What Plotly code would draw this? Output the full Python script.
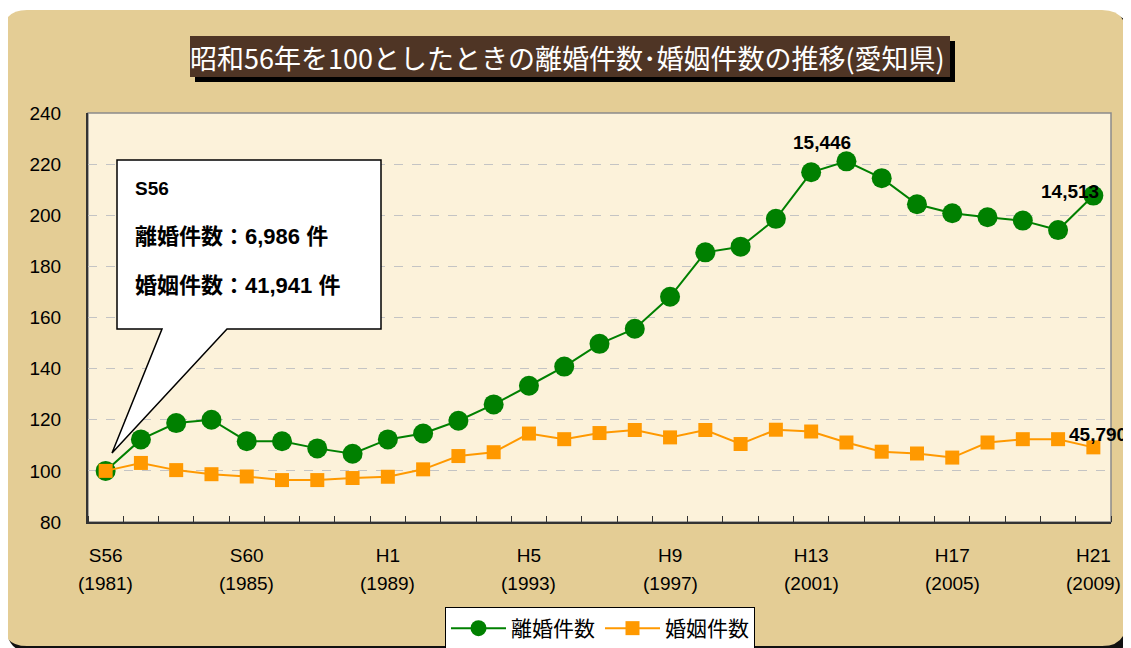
import plotly.graph_objects as go

# index values, S56 (1981) = 100
years = list(range(1981, 2010))
divorce_idx = [100, 112.3, 118.7, 120.0, 111.6, 111.6, 108.8, 106.7, 112.3, 114.6,
               119.6, 126.0, 133.3, 140.8, 149.7, 155.6, 168.1, 185.5, 187.7, 198.6,
               216.8, 221.1, 214.5, 204.3, 200.8, 199.2, 197.9, 194.2, 207.7]
marriage_idx = [100, 103.1, 100.3, 98.7, 97.8, 96.4, 96.4, 97.2, 97.7, 100.6,
                105.8, 107.3, 114.6, 112.4, 114.8, 116.0, 113.1, 116.0, 110.5, 116.1,
                115.4, 111.1, 107.5, 106.8, 105.2, 111.1, 112.4, 112.4, 109.2]

era_labels = ["S56", "S60", "H1", "H5", "H9", "H13", "H17", "H21"]
era_years = [1981, 1985, 1989, 1993, 1997, 2001, 2005, 2009]

# point labels: (year, series, text)
point_labels = [(2002, "divorce", "15,446"), (2009, "divorce", "14,513"),
                (2009, "marriage", "45,790")]

title = "昭和56年を100としたときの離婚件数･婚姻件数の推移(愛知県)"
callout_lines = ["S56", "離婚件数：6,986 件", "婚姻件数：41,941 件"]

W, H = 1131, 648
OFF = 8  # page body margin, positions below are in screenshot pixels
PL, PT, PR, PB = 88, 113, 1111, 522  # plot area in screenshot pixels
L, T = PL - OFF, PT - OFF
R, B = W - (PR - OFF), H - (PB - OFF)
PW, PH = PR - PL, PB - PT

FONT = "Liberation Sans, Arial, Noto Sans CJK JP"
GREEN = "#008000"
ORANGE = "#ff9900"


def fx(x):
    return (x - PL) / PW


def fy(y):
    return (PB - y) / PH


def rounded_rect(x0, y0, x1, y1, r):
    pts = [
        f"M {fx(x0 + r)},{fy(y0)}",
        f"L {fx(x1 - r)},{fy(y0)}",
        f"Q {fx(x1)},{fy(y0)} {fx(x1)},{fy(y0 + r)}",
        f"L {fx(x1)},{fy(y1 - r)}",
        f"Q {fx(x1)},{fy(y1)} {fx(x1 - r)},{fy(y1)}",
        f"L {fx(x0 + r)},{fy(y1)}",
        f"Q {fx(x0)},{fy(y1)} {fx(x0)},{fy(y1 - r)}",
        f"L {fx(x0)},{fy(y0 + r)}",
        f"Q {fx(x0)},{fy(y0)} {fx(x0 + r)},{fy(y0)}",
        "Z",
    ]
    return " ".join(pts)


fig = go.Figure()

fig.add_trace(go.Scatter(
    x=years, y=divorce_idx, name="離婚件数", mode="lines+markers",
    line=dict(color=GREEN, width=2),
    marker=dict(symbol="circle", size=20, color=GREEN),
))
fig.add_trace(go.Scatter(
    x=years, y=marriage_idx, name="婚姻件数", mode="lines+markers",
    line=dict(color=ORANGE, width=2),
    marker=dict(symbol="square", size=14, color=ORANGE),
))

shapes = []
# background panel with shadow
shapes.append(dict(type="path", xref="paper", yref="paper", layer="below",
                   path=rounded_rect(7, 14, 1131, 652, 24),
                   fillcolor="#111111", line=dict(width=0)))
shapes.append(dict(type="path", xref="paper", yref="paper", layer="below",
                   path=rounded_rect(3, 10, 1126, 646, 24),
                   fillcolor="#e4cd95", line=dict(width=0)))
# plot area
shapes.append(dict(type="rect", xref="paper", yref="paper", layer="below",
                   x0=0, x1=1, y0=0, y1=1, fillcolor="#fcf2da",
                   line=dict(color="#8a8a8a", width=1.5)))
# title box
shapes.append(dict(type="rect", xref="paper", yref="paper",
                   x0=fx(195), x1=fx(955), y0=fy(82), y1=fy(41),
                   fillcolor="#000000", line=dict(width=0)))
shapes.append(dict(type="rect", xref="paper", yref="paper",
                   x0=fx(190), x1=fx(950), y0=fy(77), y1=fy(36),
                   fillcolor="#4f3525", line=dict(width=0)))
# callout balloon
pts = [(117, 160), (381, 160), (381, 329), (227, 329), (112, 453), (162, 329), (117, 329)]
path = "M " + " L ".join(f"{fx(a)},{fy(b)}" for a, b in pts) + " Z"
shapes.append(dict(type="path", xref="paper", yref="paper", path=path,
                   fillcolor="white", line=dict(color="black", width=1.5)))

annotations = []
annotations.append(dict(xref="paper", yref="paper", x=fx(567), y=fy(57),
                        xanchor="center", yanchor="middle",
                        text=title, showarrow=False,
                        font=dict(family="Noto Sans CJK JP", size=27, color="white")))

for i, (txt, ypx) in enumerate(zip(callout_lines, [188, 236, 285])):
    annotations.append(dict(xref="paper", yref="paper", x=fx(133), y=fy(ypx),
                            xanchor="left", yanchor="middle",
                            text=f"<b>{txt}</b>", showarrow=False,
                            font=dict(family=FONT, size=19 if i == 0 else 22, color="black")))

for yr in era_years:
    annotations.append(dict(xref="x", yref="paper", x=yr, y=fy(583),
                            xanchor="center", yanchor="middle",
                            text=f"({yr})", showarrow=False,
                            font=dict(family=FONT, size=19, color="black")))

offsets = {(2002, "divorce"): (-24, 19), (2009, "divorce"): (-23, 4),
           (2009, "marriage"): (5, 13)}
for yr, series, txt in point_labels:
    vals = divorce_idx if series == "divorce" else marriage_idx
    dx, dy = offsets[(yr, series)]
    annotations.append(dict(xref="x", yref="y", x=yr, y=vals[years.index(yr)],
                            xanchor="center", yanchor="middle",
                            text=f"<b>{txt}</b>", showarrow=False,
                            xshift=dx, yshift=dy,
                            font=dict(family=FONT, size=19, color="black")))

fig.update_layout(
    width=W, height=H,
    margin=dict(l=L, r=R, t=T, b=B, pad=0),
    paper_bgcolor="white",
    plot_bgcolor="rgba(0,0,0,0)",
    font=dict(family=FONT, size=19, color="black"),
    shapes=shapes,
    annotations=annotations,
    showlegend=True,
    legend=dict(
        orientation="h", xref="container", yref="container",
        x=(600 - OFF) / W, y=1 - (607 - OFF) / H, xanchor="center", yanchor="top",
        bgcolor="white", bordercolor="black", borderwidth=1,
        font=dict(family=FONT, size=21), itemwidth=55,
    ),
    xaxis=dict(
        range=[1980.5, 2009.5], tickmode="array", tickvals=era_years,
        ticktext=era_labels, ticks="", showgrid=False, zeroline=False,
        showline=True, linecolor="#333333", linewidth=2,
        ticklabelstandoff=15, automargin=False,
        minor=dict(tick0=1980.5, dtick=1, ticks="inside", ticklen=6,
                   tickcolor="#333333", showgrid=False),
    ),
    yaxis=dict(
        range=[80, 240], dtick=20, ticks="", showgrid=True,
        gridcolor="#c4c4c4", griddash="dash", gridwidth=1, zeroline=False,
        showline=True, linecolor="#333333", linewidth=2,
        ticklabelstandoff=21, automargin=False,
    ),
)

fig.write_html("out.html")
